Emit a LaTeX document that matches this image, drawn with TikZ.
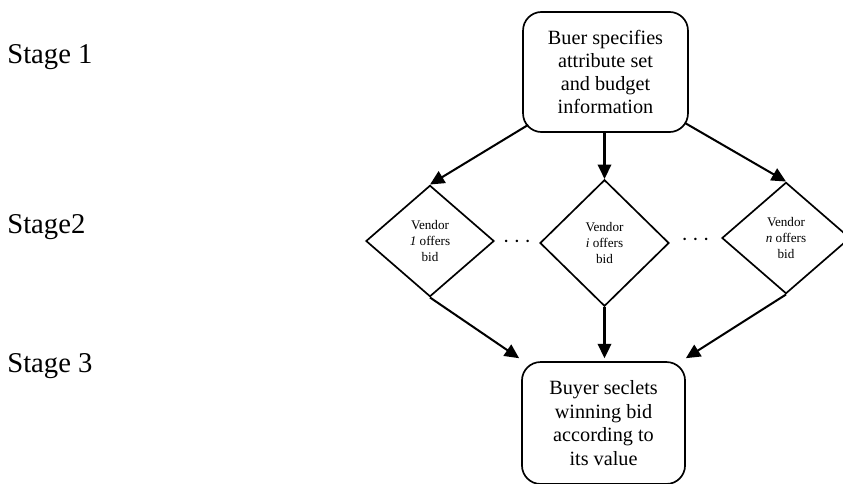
\documentclass[tikz,border=0pt]{standalone}
\usepackage{fontspec}
\setmainfont{Liberation Serif}
\usetikzlibrary{arrows.meta, shapes.geometric, calc}
\tikzset{
  box/.style    = {draw, rectangle, rounded corners=11pt, line width=1pt,
                   minimum width=97.8pt, minimum height=71.2pt, inner sep=0pt,
                   align=center, font=\fontsize{12}{13.6}\selectfont},
  vendor/.style = {draw, diamond, line width=1pt, inner sep=0pt,
                   minimum width=76pt, minimum height=66pt,
                   align=center, font=\fontsize{7.8}{9.2}\selectfont},
  stage/.style  = {anchor=base west, inner sep=0pt,
                   font=\fontsize{17}{20}\selectfont},
  dots/.style   = {inner sep=0pt, font=\fontsize{14}{16}\selectfont},
  flow/.style   = {-{Triangle[length=8.5pt, width=8pt]}, line width=1.2pt}
}

\begin{document}
\begin{tikzpicture}[x=0.593pt, y=-0.593pt]

  \useasboundingbox (0,0) rectangle (843,483);

  %%──────────────────────────────────────────────────────────────────────────
  %%  STAGE LABELS
  %%──────────────────────────────────────────────────────────────────────────
  \node[stage] (st1) at (7,63)  {Stage 1};
  \node[stage] (st2) at (7,233) {Stage2};
  \node[stage] (st3) at (7,372) {Stage 3};

  %%──────────────────────────────────────────────────────────────────────────
  %%  BUYER BOXES AND VENDOR DIAMONDS
  %%──────────────────────────────────────────────────────────────────────────
  \node[box] (spec) at (605.5,72)
        {Buer specifies\\attribute set\\and budget\\information};
  \node[box, minimum width=96.7pt, minimum height=72.3pt,
        font=\fontsize{12}{14}\selectfont] (pick) at (603.5,423)
        {Buyer seclets\\winning bid\\according to\\its value};

  \node[vendor] (v1) at (430,241)
        {Vendor\\\textit{1} offers\\bid};
  \node[vendor, minimum width=76.5pt, minimum height=75pt] (vi) at (604.5,243)
        {Vendor\\\textit{i} offers\\bid};
  \node[vendor] (vn) at (786,238)
        {Vendor\\\textit{n} offers\\bid};

  %% dots between the diamonds
  \node[dots] (gap1) at ($(v1.east)!0.5!(vi.west)$) {$\cdots$};
  \node[dots] (gap2) at ($(vi.east)!0.5!(vn.west)$) {$\cdots$};

  %%──────────────────────────────────────────────────────────────────────────
  %%  ARROWS
  %%──────────────────────────────────────────────────────────────────────────
  \draw[flow] ($(spec.south west)+(6,-8)$)   -- (v1.north);
  \draw[flow] (vi.north |- spec.south)       -- (vi.north);
  \draw[flow] ($(spec.south east)+(-4,-10)$) -- (vn.north);

  \draw[flow] (v1.south) -- ($(pick.north west)+(-2,-3)$);
  \draw[flow] (vi.south) -- ($(vi.south |- pick.north)+(0,-3)$);
  \draw[flow] (vn.south) -- ($(pick.north east)+(0,-3)$);

\end{tikzpicture}
\end{document}
